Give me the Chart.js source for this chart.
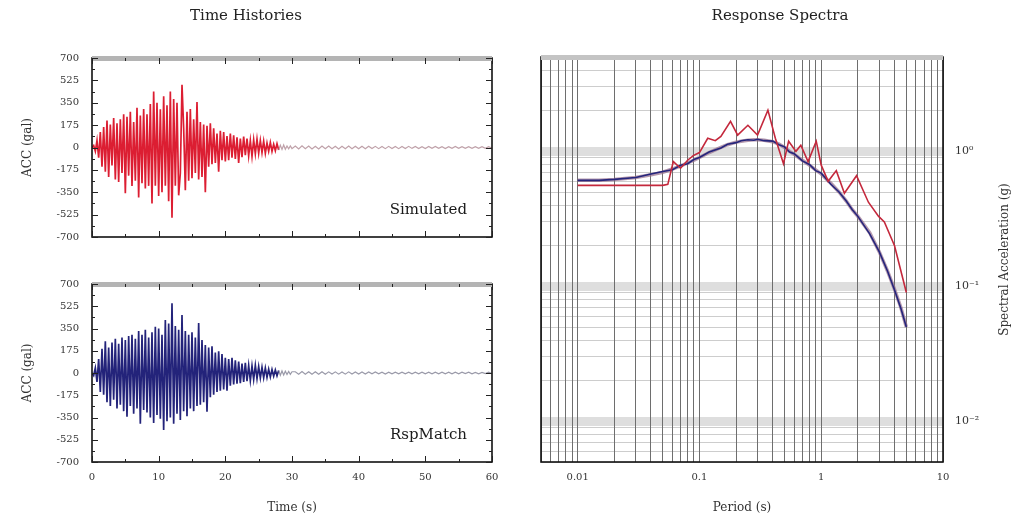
<!DOCTYPE html>
<html>
<head>
<meta charset="utf-8">
<script src="https://cdn.jsdelivr.net/npm/chart.js@4.4.1/dist/chart.umd.min.js"></script>
<style>
  html, body { margin: 0; padding: 0; background: #fff; }
  #page { position: relative; width: 1019px; height: 521px; overflow: hidden; background: #fff; }
  canvas { position: absolute; }
</style>
</head>
<body>
<div id="page">
  <canvas id="thSim" width="510" height="262" style="left:0;top:0"></canvas>
  <canvas id="thMatch" width="510" height="259" style="left:0;top:262px"></canvas>
  <canvas id="spectra" width="509" height="521" style="left:510px;top:0"></canvas>
</div>
<script>
// ---- Acceleration histories (gal), sampled every 0.25 s from 0 to 30 s ----
const sampleStep = 0.25;
const simulatedAcc = [
  0, 15, -30, 55, -80, 120, -150, 160, -190, 210,
  -230, 180, -140, 230, -250, 190, -270, 220, -200, 260,
  -358, 240, -220, 280, -300, 200, -260, 310, -390, 250,
  -280, 300, -320, 260, -300, 340, -437, 437, -300, 350,
  -380, 300, -350, 400, -300, 330, -420, 437, -549, 380,
  -300, 350, -374, -200, 490, 150, -334, 280, -260, 300,
  -240, 220, -200, 355, -250, 200, -230, 180, -350, 170,
  -150, 190, -130, 150, -120, 110, -190, 130, -100, 120,
  -110, 90, -100, 110, -80, 95, -90, 80, -120, 70,
  -75, 85, -60, 70, -65, 55, -70, 60, -50, 65,
  -45, 55, -40, 50, -45, 35, -30, 40, -30, 25,
  -25, 30, -20, 18, -15, 20, -14, 12, -10, 12,
  -9
];
const matchedAcc = [
  0, -20, 40, -70, 110, -150, 190, -170, 250, -230,
  200, -260, 240, -210, 270, -280, 230, -250, 280, -300,
  260, -343, 290, -260, 300, -320, 270, -280, 330, -400,
  300, -290, 340, -310, 280, -350, 320, -393, 364, -330,
  350, -360, 300, -448, 417, -380, 390, -350, 548, -400,
  370, -320, 340, -370, 456, -300, 330, -340, 300, -280,
  320, -300, 280, -260, 393, -250, 260, -230, 220, -304,
  200, -190, 210, -170, 160, -150, 170, -140, 150, -130,
  120, -140, 110, -100, 120, -90, 100, -85, 90, -80,
  75, -70, 80, -65, 60, -60, 55, -50, 60, -45,
  50, -40, 45, -38, 40, -35, 30, -32, 28, -25,
  24, -22, 20, -18, 16, -15, 14, -12, 12, -10,
  10
];
// Coda, sampled every 0.5 s from 30.5 s to 60 s
const tailStep = 0.5;
const simulatedTail = [
  12, -11, 13, -10, 11, -12, 10, -11, 12, -10,
  11, -9, 10, -11, 9, -10, 11, -9, 10, -10,
  9, -9, 10, -8, 9, -9, 8, -9, 9, -8,
  8, -9, 8, -8, 9, -7, 8, -8, 7, -8,
  8, -7, 8, -7, 7, -8, 7, -7, 8, -7,
  7, -7, 7, -6, 7, -7, 6, -7, 6, -6
];
const matchedTail = [
  10, -9, 11, -9, 10, -10, 9, -10, 10, -9,
  9, -8, 9, -9, 8, -9, 9, -8, 8, -8,
  8, -8, 8, -7, 8, -7, 7, -8, 7, -7,
  7, -7, 7, -7, 7, -6, 7, -7, 6, -7,
  6, -6, 7, -6, 6, -6, 6, -6, 6, -6,
  6, -5, 6, -6, 5, -6, 5, -5, 6, -5
];
const accTicks = [-700, -525, -350, -175, 0, 175, 350, 525, 700];
const timeTicks = [0, 10, 20, 30, 40, 50, 60];

// ---- Response spectra (g) ----
const periods = [0.01, 0.015, 0.02, 0.03, 0.04, 0.05, 0.06, 0.07, 0.08, 0.09,
  0.1, 0.12, 0.15, 0.17, 0.2, 0.22, 0.25, 0.28, 0.3, 0.34,
  0.4, 0.45, 0.5, 0.55, 0.6, 0.7, 0.8, 0.9, 1.0, 1.2,
  1.4, 1.6, 1.8, 2.0, 2.5, 3.0, 3.5, 4.0, 4.5, 5.0];
const targetSa = [0.61, 0.61, 0.62, 0.64, 0.67, 0.70, 0.74, 0.78, 0.82, 0.86,
  0.90, 0.98, 1.07, 1.12, 1.17, 1.19, 1.21, 1.22, 1.22, 1.21,
  1.18, 1.13, 1.07, 1.00, 0.95, 0.86, 0.79, 0.73, 0.68, 0.58,
  0.50, 0.43, 0.37, 0.33, 0.25, 0.18, 0.13, 0.095, 0.07, 0.05];
const matchedSa = [0.61, 0.61, 0.62, 0.64, 0.68, 0.71, 0.73, 0.79, 0.81, 0.87,
  0.90, 0.99, 1.06, 1.13, 1.16, 1.20, 1.22, 1.21, 1.23, 1.20,
  1.19, 1.12, 1.08, 0.99, 0.96, 0.85, 0.80, 0.72, 0.69, 0.57,
  0.50, 0.43, 0.37, 0.33, 0.245, 0.18, 0.13, 0.094, 0.069, 0.05];
const simPeriods = [0.01, 0.02, 0.03, 0.04, 0.05, 0.055, 0.061, 0.07, 0.08, 0.089,
  0.1, 0.117, 0.135, 0.15, 0.18, 0.206, 0.25, 0.30, 0.365, 0.42,
  0.49, 0.54, 0.62, 0.68, 0.78, 0.91, 1.0, 1.14, 1.33, 1.55,
  1.95, 2.44, 2.96, 3.3, 4.0, 5.0];
const simulatedSa = [0.56, 0.56, 0.56, 0.56, 0.56, 0.57, 0.84, 0.75, 0.86, 0.93,
  0.98, 1.25, 1.20, 1.29, 1.67, 1.32, 1.56, 1.32, 2.02, 1.25,
  0.81, 1.19, 1.00, 1.11, 0.84, 1.19, 0.79, 0.60, 0.72, 0.49,
  0.66, 0.42, 0.33, 0.30, 0.20, 0.09];

const SERIF = '"DejaVu Serif", "Liberation Serif", serif';
Chart.defaults.font.family = SERIF;
Chart.defaults.color = '#333';
Chart.defaults.animation = false;

function toPoints(main, tail) {
  const pts = main.map((v, i) => ({ x: i * sampleStep, y: v }));
  const t0 = (main.length - 1) * sampleStep;
  tail.forEach((v, j) => pts.push({ x: t0 + (j + 1) * tailStep, y: v }));
  return pts;
}
function pairs(xs, ys) { return xs.map((x, i) => ({ x, y: ys[i] })); }

// Plot frame: grey top strip, inward tick marks, black box and corner caption
const framePlugin = {
  id: 'frame',
  afterDraw(chart, args, o) {
    const { ctx, chartArea: a } = chart;
    ctx.save();
    ctx.strokeStyle = '#111';
    ctx.lineWidth = 1.6;
    ctx.strokeRect(a.left, a.top, a.right - a.left, a.bottom - a.top);
    if (o.topBand) {
      ctx.fillStyle = o.topBand;
      ctx.fillRect(a.left, a.top - 2, a.right - a.left, 5);
    }
    if (o.inwardTicks) {
      const xs = chart.scales.x, ys = chart.scales.y;
      ctx.strokeStyle = '#222';
      ctx.lineWidth = 1;
      ctx.beginPath();
      for (let v = xs.min; v <= xs.max + 1e-9; v += o.xMinor) {
        const p = Math.round(xs.getPixelForValue(v)) + 0.5;
        const L = Math.abs(v % o.xMajor) < 1e-9 ? 6 : 3;
        ctx.moveTo(p, a.bottom); ctx.lineTo(p, a.bottom - L);
        ctx.moveTo(p, a.top); ctx.lineTo(p, a.top + L);
      }
      for (let v = ys.min; v <= ys.max + 1e-9; v += o.yMinor) {
        const p = Math.round(ys.getPixelForValue(v)) + 0.5;
        const L = Math.abs(v % o.yMajor) < 1e-9 ? 6 : 3;
        ctx.moveTo(a.left, p); ctx.lineTo(a.left + L, p);
        ctx.moveTo(a.right, p); ctx.lineTo(a.right - L, p);
      }
      ctx.stroke();
    }
    if (o.caption) {
      ctx.fillStyle = '#1a1a1a';
      ctx.font = '15px ' + SERIF;
      ctx.textAlign = 'right';
      ctx.textBaseline = 'middle';
      ctx.fillText(o.caption, a.right - 25, a.bottom - 27);
    }
    if (o.rightTitle) {
      ctx.fillStyle = '#333';
      ctx.font = '12px ' + SERIF;
      ctx.textAlign = 'center';
      ctx.textBaseline = 'middle';
      ctx.translate(o.rightTitleX, (a.top + a.bottom) / 2);
      ctx.rotate(-Math.PI / 2);
      ctx.fillText(o.rightTitle, 0, 0);
    }
    ctx.restore();
  }
};

function historyChart(id, main, tail, color, codaColor, caption, withTitle, showX) {
  const canvas = document.getElementById(id);
  const codaStart = (main.length - 1) * sampleStep - 2;
  return new Chart(canvas, {
    type: 'line',
    data: {
      datasets: [{
        data: toPoints(main, tail),
        borderColor: color,
        borderWidth: 1.7,
        pointRadius: 0,
        tension: 0,
        segment: {
          borderColor: c => (c.p0.parsed.x >= codaStart ? codaColor : undefined),
          borderWidth: c => (c.p0.parsed.x >= codaStart ? 1.2 : undefined)
        }
      }]
    },
    options: {
      responsive: false,
      layout: { padding: { top: withTitle ? 0 : 22, right: 18, left: 0, bottom: 0 } },
      plugins: {
        legend: { display: false },
        tooltip: { enabled: false },
        title: {
          display: withTitle,
          text: 'Time Histories',
          color: '#222',
          font: { size: 15, weight: 'normal' },
          padding: { top: 7, bottom: 33 }
        },
        frame: {
          topBand: '#b4b4b4', inwardTicks: true,
          xMinor: 5, xMajor: 10, yMinor: 87.5, yMajor: 175,
          caption
        }
      },
      scales: {
        x: {
          type: 'linear', min: 0, max: 60,
          afterBuildTicks: s => { s.ticks = timeTicks.map(v => ({ value: v })); },
          ticks: { display: showX, maxRotation: 0, autoSkip: false, padding: 9, font: { size: 10 } },
          grid: { display: false, drawTicks: false },
          border: { display: false },
          title: { display: showX, text: 'Time (s)', font: { size: 12 }, padding: { top: 0, bottom: 6 } },
          afterFit: s => { s.height = canvas.height - (showX ? 200 : 237); }
        },
        y: {
          type: 'linear', min: -700, max: 700,
          afterBuildTicks: s => { s.ticks = accTicks.map(v => ({ value: v })); },
          ticks: { autoSkip: false, padding: 13, font: { size: 10 }, callback: v => String(v) },
          grid: { display: false, drawTicks: false },
          border: { display: false },
          title: { display: true, text: 'ACC (gal)', font: { size: 12 }, padding: { top: 21, bottom: 0 } },
          afterFit: s => { s.width = 92; }
        }
      }
    },
    plugins: [framePlugin]
  });
}

historyChart('thSim', simulatedAcc, simulatedTail, '#dc1e32', 'rgba(170,130,140,0.75)', 'Simulated', true, false);
historyChart('thMatch', matchedAcc, matchedTail, '#23237a', 'rgba(120,120,140,0.75)', 'RspMatch', false, true);

// ---- Spectra on log-log axes ----
function logGrid(min, max) {
  const out = [];
  for (let e = -3; e <= 1; e++) {
    for (let m = 1; m <= 9; m++) {
      const v = +(m * Math.pow(10, e)).toPrecision(6);
      if (v >= min * 0.999999 && v <= max * 1.000001) out.push(v);
    }
  }
  return out;
}
function isDecade(v) { const e = Math.log10(v); return Math.abs(e - Math.round(e)) < 1e-6; }
const SUP = { '-': '\u207B', '0': '\u2070', '1': '\u00B9', '2': '\u00B2', '3': '\u00B3' };
function powerLabel(v) {
  const e = String(Math.round(Math.log10(v)));
  return '10' + e.split('').map(c => SUP[c]).join('');
}

const periodGrid = logGrid(0.005, 10);
const saGrid = logGrid(0.005, 5);

new Chart(document.getElementById('spectra'), {
  type: 'line',
  data: {
    datasets: [
      { label: 'Simulated', data: pairs(simPeriods, simulatedSa), borderColor: '#c4283c', borderWidth: 1.6, pointRadius: 0, tension: 0, order: 0 },
      { label: 'RspMatch', data: pairs(periods, matchedSa), borderColor: '#25257c', borderWidth: 1.6, pointRadius: 0, tension: 0, order: 1 },
      { label: 'Target', data: pairs(periods, targetSa), borderColor: 'rgba(150,110,140,0.7)', borderWidth: 3.5, pointRadius: 0, tension: 0, order: 2 }
    ]
  },
  options: {
    responsive: false,
    layout: { padding: { top: 0, right: 0, left: 31, bottom: 0 } },
    plugins: {
      legend: { display: false },
      tooltip: { enabled: false },
      title: {
        display: true,
        text: 'Response Spectra',
        color: '#222',
        font: { size: 15, weight: 'normal' },
        padding: { top: 7, bottom: 32 }
      },
      frame: { topBand: '#c4c4c4', rightTitle: 'Spectral Acceleration (g)', rightTitleX: 495 }
    },
    scales: {
      x: {
        type: 'logarithmic', min: 0.005, max: 10,
        afterBuildTicks: s => { s.ticks = periodGrid.map(v => ({ value: v })); },
        ticks: {
          autoSkip: false, maxRotation: 0, padding: 9, font: { size: 10 },
          callback: v => (isDecade(v) ? String(v) : '')
        },
        grid: { color: '#6e6e6e', lineWidth: 1, drawTicks: false, z: -1 },
        border: { display: false },
        title: { display: true, text: 'Period (s)', font: { size: 12 }, padding: { top: 0, bottom: 6 } },
        afterFit: s => { s.height = 59; }
      },
      y: {
        type: 'logarithmic', position: 'right', min: 0.005, max: 5,
        afterBuildTicks: s => { s.ticks = saGrid.map(v => ({ value: v })); },
        ticks: {
          autoSkip: false, padding: 12, font: { size: 11 },
          callback: v => (isDecade(v) ? powerLabel(v) : '')
        },
        grid: {
          drawTicks: false, z: -2,
          color: c => (c.tick && isDecade(c.tick.value) ? '#dedede' : '#cdcdcd'),
          lineWidth: c => (c.tick && isDecade(c.tick.value) ? 9 : 1)
        },
        border: { display: false },
        title: { display: false },
        afterFit: s => { s.width = 76; }
      }
    }
  },
  plugins: [framePlugin]
});
</script>
</body>
</html>
